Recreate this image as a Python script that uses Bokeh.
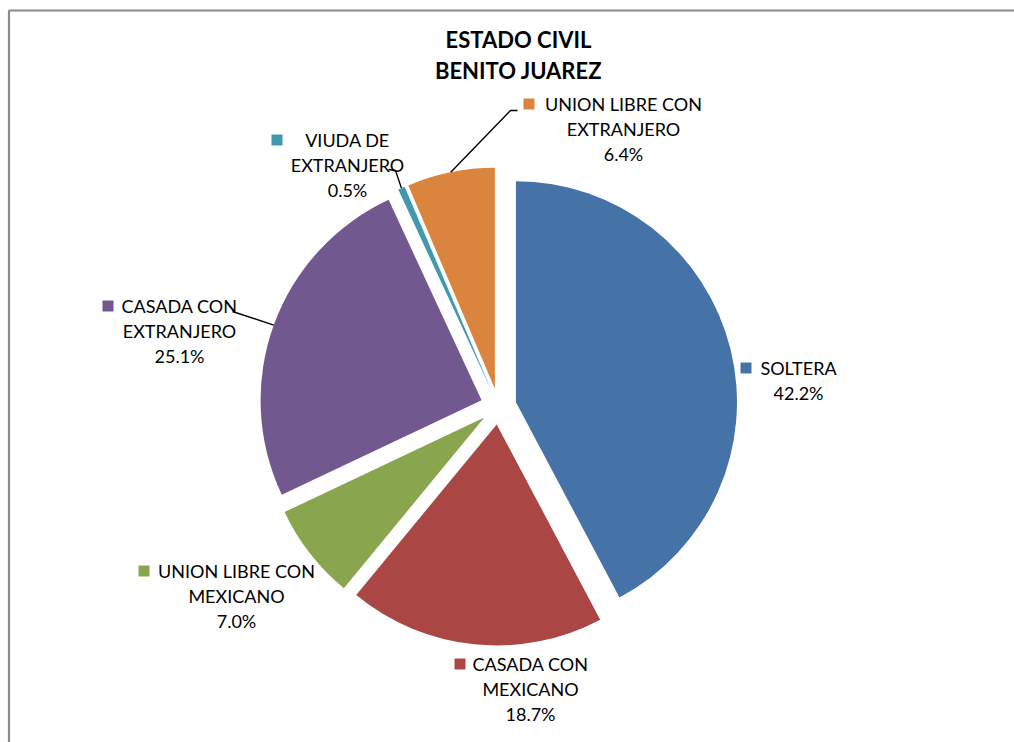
import math
from bokeh.plotting import figure
from bokeh.models import Range1d
from bokeh.core.properties import value
from bokeh.embed import file_html
from bokeh.resources import INLINE

# ---------------- data ----------------
categories = ["SOLTERA", "CASADA CON MEXICANO", "UNION LIBRE CON MEXICANO",
              "CASADA CON EXTRANJERO", "VIUDA DE EXTRANJERO", "UNION LIBRE CON EXTRANJERO"]
percentages = [42.2, 18.7, 7.0, 25.1, 0.5, 6.4]
colors = ["#4572A7", "#AA4643", "#89A54E", "#71588F", "#4198AF", "#DB843D"]
label_lines = [["SOLTERA"], ["CASADA CON", "MEXICANO"], ["UNION LIBRE CON", "MEXICANO"],
               ["CASADA CON", "EXTRANJERO"], ["VIUDA DE", "EXTRANJERO"],
               ["UNION LIBRE CON", "EXTRANJERO"]]
title_lines = ["ESTADO CIVIL", "BENITO JUAREZ"]

# ---------------- layout (reference pixel coords) ----------------
W, H = 1014, 742
TEXT_SHIFT = 8
def fx(x): return x
def fy(y): return H - y

CX, CY = 498, 406      # pie centre
R = 221                # radius
EXPLODE = 18           # explosion offset
FONT = "Lato"
FS = "18px"
LINE_GAP = 25
# label anchor: (text centre x, first baseline y, key left x)
label_pos = [(798, 375, 740), (530, 671, 454), (236, 578, 138),
             (179, 313, 102), (347, 147, 271), (623, 111, 523)]

p = figure(width=W, height=H, x_range=Range1d(0, W), y_range=Range1d(0, H),
           output_backend="svg", toolbar_location=None,
           x_axis_location=None, y_axis_location=None, min_border=0)
p.grid.visible = False
p.outline_line_color = None
p.background_fill_color = "white"
p.border_fill_color = "white"

# border (top and left visible)
p.segment(x0=[fx(8.5), fx(8)], y0=[fy(10), fy(10)], x1=[fx(8.5), fx(1014)], y1=[fy(742), fy(10)],
          line_color="#8a8a8a", line_width=2.2)

# ---------------- pie ----------------
total = sum(percentages)
cum = 0.0
mids = []
apexes = []
for v, c in zip(percentages, colors):
    t0 = cum / total * 2 * math.pi
    cum += v
    t1 = cum / total * 2 * math.pi
    tm = (t0 + t1) / 2
    mids.append(tm)
    ax = CX + EXPLODE * math.sin(tm)
    ay = CY - EXPLODE * math.cos(tm)
    apexes.append((ax, ay))
    p.wedge(x=[fx(ax)], y=[fy(ay)], radius=R,
            start_angle=math.pi / 2 - t0, end_angle=math.pi / 2 - t1,
            direction="clock", fill_color=c, line_color=None)

def arc_point(i):
    ax, ay = apexes[i]
    t = mids[i]
    return (ax + R * math.sin(t), ay - R * math.cos(t))

# leader lines (pie edge -> label)
leader_tail = {3: [(232, 311)], 4: [(395, 170), (388, 169)], 5: [(510, 110), (517, 110)]}
for i, tail in leader_tail.items():
    pts = [arc_point(i)] + tail
    p.line(x=[fx(a) for a, b in pts], y=[fy(b) for a, b in pts], line_color="black", line_width=1.4)

# ---------------- labels ----------------
for i, (lines, v, c) in enumerate(zip(label_lines, percentages, colors)):
    tx, ty, kx = label_pos[i]
    all_lines = lines + [f"{v:.1f}%"]
    p.text(x=[fx(tx)] * len(all_lines),
           y=[fy(ty + k * LINE_GAP - TEXT_SHIFT) for k in range(len(all_lines))],
           text=all_lines, text_align="center", text_baseline="alphabetic",
           text_font=value(FONT), text_font_size=FS, text_color="black")
    p.rect(x=[fx(kx + 5.5)], y=[fy(ty - 7.5)], width=11, height=11, fill_color=c, line_color=None)

# title
p.text(x=[fx(518)] * 2, y=[fy(47 - TEXT_SHIFT), fy(78 - TEXT_SHIFT)], text=title_lines,
       text_align="center", text_baseline="alphabetic", text_font=value(FONT),
       text_font_style="bold", text_font_size="22px", text_color="black")

open("out.html", "w").write(file_html(p, INLINE))
